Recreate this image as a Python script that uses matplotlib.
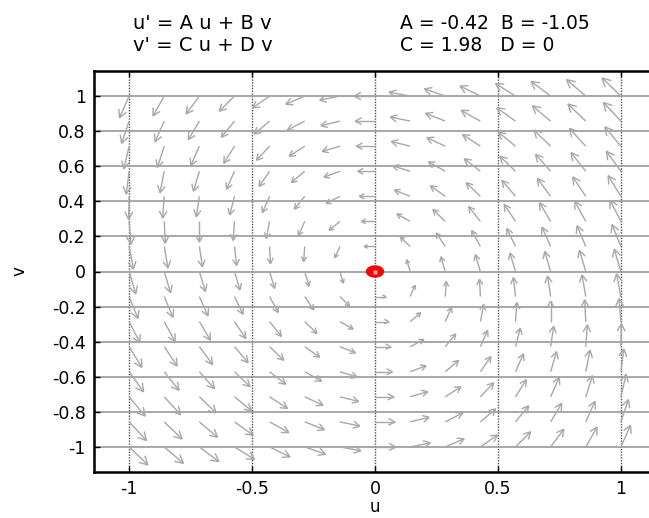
import numpy as np
import matplotlib
matplotlib.use("Agg")
import matplotlib.pyplot as plt
from matplotlib.collections import LineCollection
from matplotlib.patches import Ellipse

# linear system u' = A u + B v, v' = C u + D v
A, B, C, D = -0.42, -1.05, 1.98, 0.0

# arrow tails sit on a 15 x 15 grid
u_grid = np.arange(-7, 8) / 7
v_grid = np.arange(-7, 8) / 7

xticks = [-1, -0.5, 0, 0.5, 1]
xlabels = ["-1", "-0.5", "0", "0.5", "1"]
yticks = [-1, -0.8, -0.6, -0.4, -0.2, 0, 0.2, 0.4, 0.6, 0.8, 1]
ylabels = ["-1", "-0.8", "-0.6", "-0.4", "-0.2", "0", "0.2", "0.4", "0.6", "0.8", "1"]

plt.rcParams["font.family"] = ["DejaVu Sans"]

fig = plt.figure(figsize=(6.49, 5.18), dpi=100)
ax = fig.add_axes([94 / 649, 46 / 518, 562 / 649, 401 / 518])
lim = 8 / 7
ax.set_xlim(-lim, lim)
ax.set_ylim(-lim, lim)

# pixels per data unit, so arrows are scaled on screen like pplane does
sx = ax.bbox.width / (2 * lim)
sy = ax.bbox.height / (2 * lim)

U, V = np.meshgrid(u_grid, v_grid)
du = A * U + B * V
dv = C * U + D * V
px = du * sx
py = dv * sy
mag = np.hypot(px, py)

segs = []
max_len = 26.0
head_ang = np.radians(28)
for x0, y0, ex, ey, m in zip(U.ravel(), V.ravel(), px.ravel(), py.ravel(), mag.ravel()):
    if m == 0:
        continue
    L = max_len * (m / mag.max()) ** (1 / 3)
    ux, uy = ex / m, ey / m
    tx, ty = x0 + L * ux / sx, y0 + L * uy / sy
    segs.append([(x0, y0), (tx, ty)])
    h = 0.37 * L
    for a in (head_ang, -head_ang):
        bx = -(ux * np.cos(a) - uy * np.sin(a))
        by = -(ux * np.sin(a) + uy * np.cos(a))
        segs.append([(tx, ty), (tx + h * bx / sx, ty + h * by / sy)])

ax.add_collection(LineCollection(segs, colors="#a8a8a8", linewidths=1.0, zorder=3))

# equilibrium point
ax.add_patch(Ellipse((0, 0), 17 / sx, 11 / sy, color="red", zorder=4))
ax.plot([0], [0], marker="s", ms=3, color="#b0b0b0", mec="none", zorder=5)

ax.set_xticks(xticks)
ax.set_xticklabels(xlabels)
ax.set_yticks(yticks)
ax.set_yticklabels(ylabels)
ax.tick_params(direction="in", length=4, width=1, top=True, right=True,
               labelsize=12.5, pad=6, colors="black")
ax.xaxis.grid(True, color="#505050", linestyle=(0, (1, 1)), linewidth=1.0)
ax.yaxis.grid(True, color="#9a9a9a", linestyle="-", linewidth=1.2)
ax.set_axisbelow(True)
for s in ax.spines.values():
    s.set_linewidth(1.8)

ax.set_xlabel("u", fontsize=12, labelpad=0)
ax.set_ylabel("v", fontsize=12, labelpad=17)

fig.text(133 / 649, 1 - 29 / 518, "u' = A u + B v", fontsize=14)
fig.text(133 / 649, 1 - 51 / 518, "v' = C u + D v", fontsize=14)
fig.text(400 / 649, 1 - 29 / 518, "A = -0.42  B = -1.05", fontsize=13.5)
fig.text(400 / 649, 1 - 51 / 518, "C = 1.98   D = 0", fontsize=13.5)

fig.savefig("out.png", dpi=100)
